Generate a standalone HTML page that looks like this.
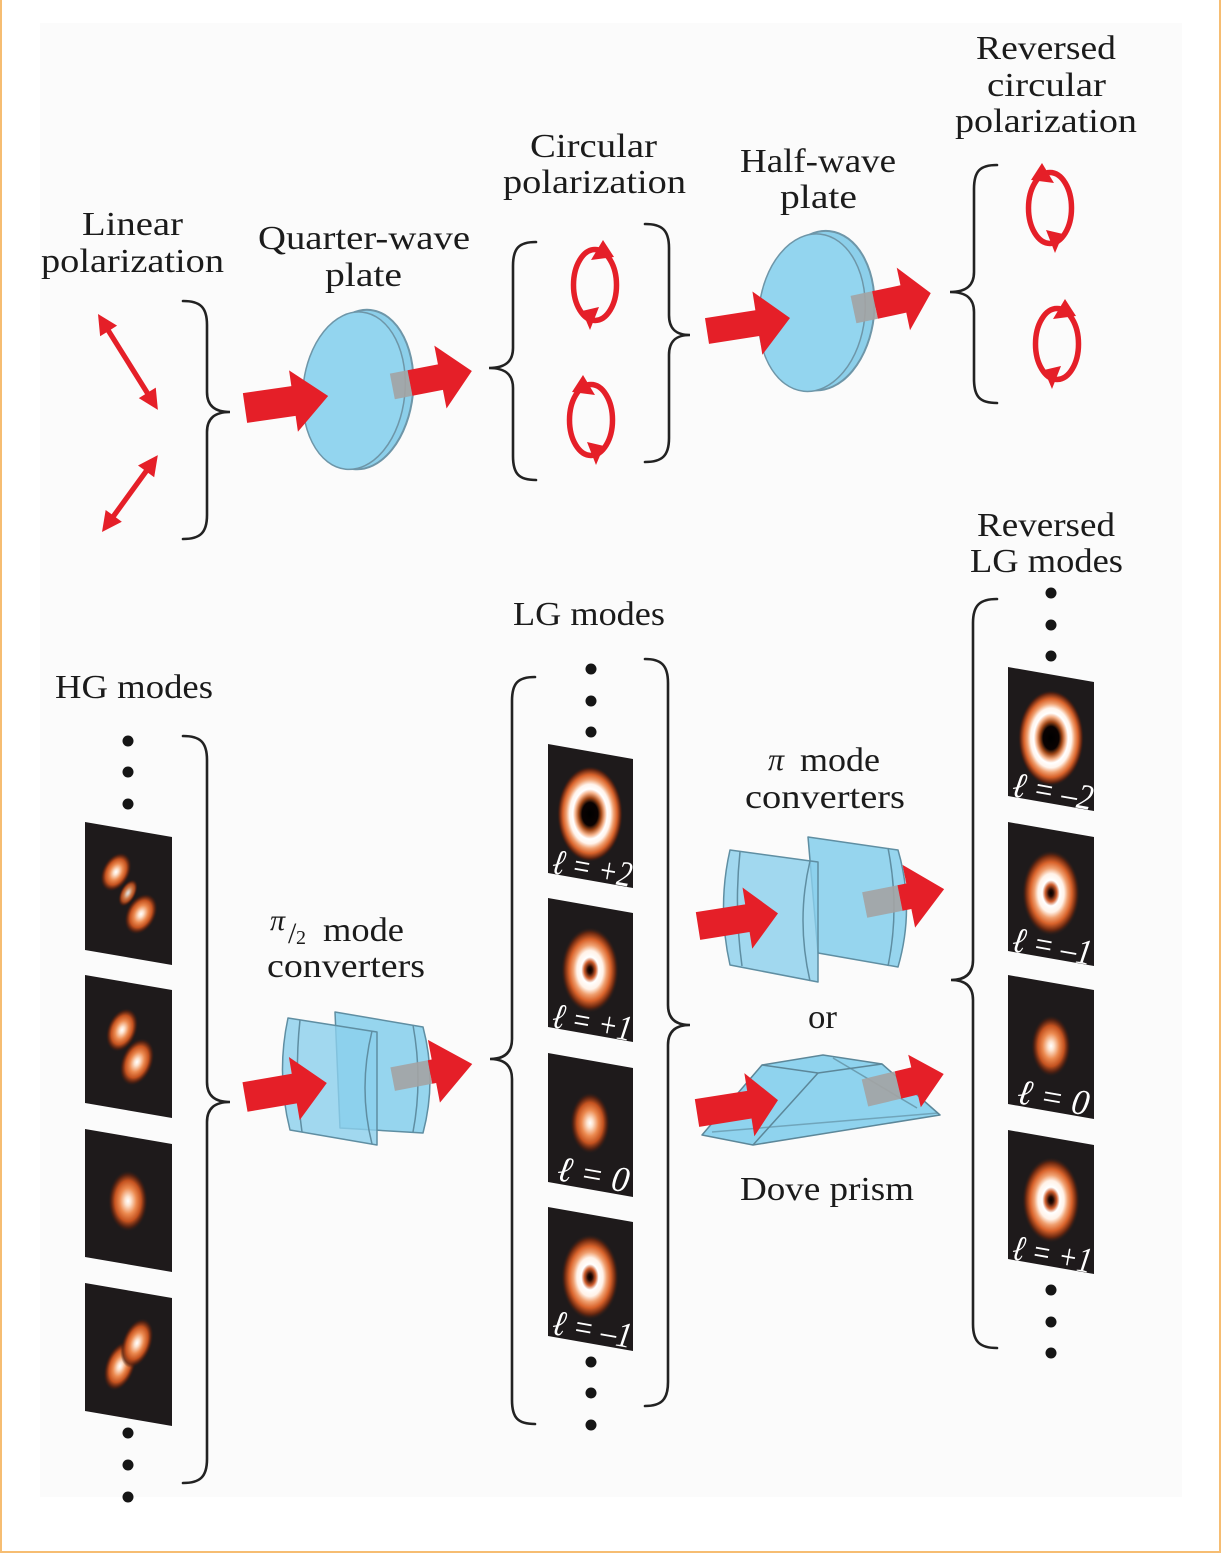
<!DOCTYPE html>
<html><head><meta charset="utf-8"><style>
html,body{margin:0;padding:0;background:#fff;}
svg{display:block;}
text{font-family:"Liberation Serif",serif;fill:#1b1b1b;}
.t{font-size:34px;}
.lab{font-size:36px;font-style:italic;fill:#fff;}
</style></head><body>
<svg width="1221" height="1553" viewBox="0 0 1221 1553" xmlns="http://www.w3.org/2000/svg">
<defs>
<radialGradient id="g0">
<stop offset="0" stop-color="#ffffff"/><stop offset="0.15" stop-color="#fde3cf"/><stop offset="0.42" stop-color="#ec8a50"/><stop offset="0.66" stop-color="#c4521f"/><stop offset="0.85" stop-color="#5a2210" stop-opacity="0.8"/><stop offset="1" stop-color="#1e1a1b" stop-opacity="0"/>
</radialGradient>
<radialGradient id="g1">
<stop offset="0" stop-color="#000000"/><stop offset="0.08" stop-color="#2a0c04"/><stop offset="0.2" stop-color="#d06030"/><stop offset="0.3" stop-color="#ffffff"/><stop offset="0.45" stop-color="#fff2e8"/><stop offset="0.58" stop-color="#f0a070"/><stop offset="0.72" stop-color="#d8622a"/><stop offset="0.87" stop-color="#6a2810"/><stop offset="1" stop-color="#1e1a1b" stop-opacity="0"/>
</radialGradient>
<radialGradient id="g2">
<stop offset="0" stop-color="#000000"/><stop offset="0.24" stop-color="#0a0302"/><stop offset="0.34" stop-color="#a04818"/><stop offset="0.44" stop-color="#f4b088"/><stop offset="0.52" stop-color="#ffffff"/><stop offset="0.62" stop-color="#fff4ec"/><stop offset="0.72" stop-color="#f0a070"/><stop offset="0.82" stop-color="#d8622a"/><stop offset="0.93" stop-color="#5a2210"/><stop offset="1" stop-color="#1e1a1b" stop-opacity="0"/>
</radialGradient>
<g id="cw">
<ellipse cx="0" cy="0" rx="21.5" ry="35.5" fill="none" stroke="#e51f28" stroke-width="5.5"/>
<polygon points="8,-45 19,-28 -4,-25" fill="#e51f28"/>
<polygon points="-13,26 4,22 -5,45" fill="#e51f28"/>
</g>
</defs>

<!-- background panel and border -->
<rect x="0" y="0" width="1221" height="1553" fill="#ffffff"/>
<rect x="40" y="23" width="1142" height="1474" fill="#fbfbfb"/>
<rect x="0" y="0" width="2" height="1553" fill="#f6bd72"/>
<rect x="1219" y="0" width="2" height="1553" fill="#f6bd72"/>
<rect x="0" y="1551" width="1221" height="2" fill="#f6bd72"/>

<!-- ===== TOP TEXT ===== -->
<text class="t" x="82" y="235" textLength="101" lengthAdjust="spacingAndGlyphs">Linear</text>
<text class="t" x="41" y="272" textLength="183" lengthAdjust="spacingAndGlyphs">polarization</text>
<text class="t" x="258" y="249" textLength="212" lengthAdjust="spacingAndGlyphs">Quarter-wave</text>
<text class="t" x="325" y="286" textLength="77" lengthAdjust="spacingAndGlyphs">plate</text>
<text class="t" x="530" y="157" textLength="127" lengthAdjust="spacingAndGlyphs">Circular</text>
<text class="t" x="503" y="193" textLength="183" lengthAdjust="spacingAndGlyphs">polarization</text>
<text class="t" x="740" y="172" textLength="156" lengthAdjust="spacingAndGlyphs">Half-wave</text>
<text class="t" x="780" y="208" textLength="77" lengthAdjust="spacingAndGlyphs">plate</text>
<text class="t" x="976" y="59" textLength="140" lengthAdjust="spacingAndGlyphs">Reversed</text>
<text class="t" x="987" y="96" textLength="119" lengthAdjust="spacingAndGlyphs">circular</text>
<text class="t" x="955" y="132" textLength="182" lengthAdjust="spacingAndGlyphs">polarization</text>

<!-- ===== BRACES ===== -->
<g fill="none" stroke="#222" stroke-width="2.6" stroke-linecap="round">
<path d="M183,301 C200,301 207,307 207,325 L207,392 C207,405 214,412 230,412 C214,412 207,419 207,432 L207,515 C207,533 200,539 183,539"/>
<path d="M536,242 C519,242 513,248 513,266 L513,348 C513,361 506,368 489,368 C506,368 513,375 513,388 L513,456 C513,474 519,480 536,480"/>
<path d="M645,224 C662,224 669,230 669,248 L669,315 C669,328 675,335 690,335 C675,335 669,342 669,355 L669,438 C669,456 662,462 645,462"/>
<path d="M997,165 C980,165 974,171 974,189 L974,272 C974,285 967,292 950,292 C967,292 974,299 974,312 L974,379 C974,397 980,403 997,403"/>
<path d="M183,736 C200,736 207,742 207,760 L207,1082 C207,1095 214,1102 230,1102 C214,1102 207,1109 207,1122 L207,1459 C207,1477 200,1483 183,1483"/>
<path d="M535,677 C518,677 512,683 512,701 L512,1039 C512,1052 505,1059 490,1059 C505,1059 512,1066 512,1079 L512,1400 C512,1418 518,1424 535,1424"/>
<path d="M645,659 C661,659 668,665 668,683 L668,1005 C668,1018 675,1025 690,1025 C675,1025 668,1032 668,1045 L668,1382 C668,1400 661,1406 645,1406"/>
<path d="M997,599 C980,599 973,605 973,623 L973,960 C973,973 966,980 951,980 C966,980 973,987 973,1000 L973,1324 C973,1342 980,1348 997,1348"/>
</g>

<!-- linear polarization arrows -->
<polygon transform="translate(98,314) rotate(58)" points="0,0 20,-10 20,-2.6 93,-2.6 93,-10 113,0 93,10 93,2.6 20,2.6 20,10" fill="#e51f28"/>
<polygon transform="translate(102,532) rotate(-54)" points="0,0 20,-10 20,-2.6 75,-2.6 75,-10 95,0 75,10 75,2.6 20,2.6 20,10" fill="#e51f28"/>

<!-- circular polarization -->
<use href="#cw" transform="translate(595,285)"/>
<use href="#cw" transform="translate(591,420) scale(-1,1)"/>
<use href="#cw" transform="translate(1050,208) scale(-1,1)"/>
<use href="#cw" transform="translate(1057,344)"/>

<!-- QWP -->
<g transform="rotate(6 357 390)">
<ellipse cx="362" cy="389" rx="51" ry="80" fill="#8ccfea" stroke="#6e96a8" stroke-width="2"/>
<ellipse cx="354" cy="391" rx="51" ry="79" fill="#93d5ef" stroke="#6e96a8" stroke-width="1.5"/>
</g>
<!-- HWP -->
<g transform="rotate(6 815 312)">
<ellipse cx="821" cy="310" rx="53" ry="80" fill="#8ccfea" stroke="#6e96a8" stroke-width="2"/>
<ellipse cx="812" cy="313" rx="53" ry="79" fill="#93d5ef" stroke="#6e96a8" stroke-width="1.5"/>
</g>

<!-- top arrows -->
<polygon transform="translate(245,408) rotate(-8.2)" points="0,-15 49,-15 49,-31 84,0 49,31 49,15 0,15" fill="#e51f28"/>
<g transform="translate(410,383) rotate(-11)"><rect x="-18" y="-13" width="18" height="26" fill="#a3a3a3" opacity="0.9"/><polygon points="0,-13 31,-13 31,-32 63,0 31,32 31,13 0,13" fill="#e51f28"/></g>
<polygon transform="translate(707,331) rotate(-8.9)" points="0,-13 51,-13 51,-32 84,0 51,32 51,13 0,13" fill="#e51f28"/>
<g transform="translate(875,305) rotate(-12)"><rect x="-22" y="-14" width="22" height="28" fill="#a3a3a3" opacity="0.9"/><polygon points="0,-14 29,-14 29,-32 57,0 29,32 29,14 0,14" fill="#e51f28"/></g>

<!-- ===== BOTTOM TEXT ===== -->
<text class="t" x="55" y="698" textLength="158" lengthAdjust="spacingAndGlyphs">HG modes</text>
<text class="t" x="513" y="625" textLength="152" lengthAdjust="spacingAndGlyphs">LG modes</text>
<text class="t" x="977" y="536" textLength="138" lengthAdjust="spacingAndGlyphs">Reversed</text>
<text class="t" x="970" y="572" textLength="153" lengthAdjust="spacingAndGlyphs">LG modes</text>
<text x="270" y="930" font-size="30" font-style="italic">π</text>
<text x="288" y="943" font-size="30">/</text>
<text x="296" y="944" font-size="20">2</text>
<text class="t" x="323" y="941" textLength="81" lengthAdjust="spacingAndGlyphs">mode</text>
<text class="t" x="267" y="977" textLength="158" lengthAdjust="spacingAndGlyphs">converters</text>
<text x="768" y="770" font-size="32" font-style="italic">π</text>
<text class="t" x="800" y="771" textLength="80" lengthAdjust="spacingAndGlyphs">mode</text>
<text class="t" x="745" y="808" textLength="160" lengthAdjust="spacingAndGlyphs">converters</text>
<text class="t" x="808" y="1028" textLength="29" lengthAdjust="spacingAndGlyphs">or</text>
<text class="t" x="740" y="1200" textLength="174" lengthAdjust="spacingAndGlyphs">Dove prism</text>

<!-- dots -->
<g fill="#151515">
<circle cx="128" cy="741" r="5.5"/><circle cx="128" cy="772" r="5.5"/><circle cx="128" cy="804" r="5.5"/>
<circle cx="128" cy="1433" r="5.5"/><circle cx="128" cy="1465" r="5.5"/><circle cx="128" cy="1497" r="5.5"/>
<circle cx="591" cy="669" r="5.5"/><circle cx="591" cy="701" r="5.5"/><circle cx="591" cy="732" r="5.5"/>
<circle cx="591" cy="1362" r="5.5"/><circle cx="591" cy="1393" r="5.5"/><circle cx="591" cy="1425" r="5.5"/>
<circle cx="1051" cy="593" r="5.5"/><circle cx="1051" cy="625" r="5.5"/><circle cx="1051" cy="656" r="5.5"/>
<circle cx="1051" cy="1290" r="5.5"/><circle cx="1051" cy="1322" r="5.5"/><circle cx="1051" cy="1353" r="5.5"/>
</g>

<!-- HG images -->
<g fill="#1e1a1b">
<polygon points="85,822 172,837 172,965 85,950"/>
<polygon points="85,975 172,990 172,1118 85,1103"/>
<polygon points="85,1129 172,1144 172,1272 85,1257"/>
<polygon points="85,1283 172,1298 172,1426 85,1411"/>
</g>
<ellipse cx="116" cy="872" rx="14" ry="21" fill="url(#g0)" transform="rotate(28 116 872)"/>
<ellipse cx="128" cy="893" rx="8" ry="15" fill="url(#g0)" opacity="0.85" transform="rotate(28 128 893)"/>
<ellipse cx="141" cy="914" rx="15" ry="22" fill="url(#g0)" transform="rotate(28 141 914)"/>
<ellipse cx="122" cy="1030" rx="15" ry="23" fill="url(#g0)" transform="rotate(22 122 1030)"/>
<ellipse cx="137" cy="1062" rx="16" ry="25" fill="url(#g0)" transform="rotate(22 137 1062)"/>
<ellipse cx="128" cy="1201" rx="20" ry="31" fill="url(#g0)"/>
<ellipse cx="120" cy="1366" rx="15" ry="26" fill="url(#g0)" transform="rotate(20 120 1366)"/>
<ellipse cx="137" cy="1343" rx="15" ry="26" fill="url(#g0)" transform="rotate(20 137 1343)"/>

<!-- LG images -->
<g fill="#1e1a1b">
<polygon points="548,744 633,759 633,888 548,873"/>
<polygon points="548,898 633,913 633,1042 548,1027"/>
<polygon points="548,1053 633,1068 633,1197 548,1182"/>
<polygon points="548,1207 633,1222 633,1351 548,1336"/>
<polygon points="1008,667 1094,682 1094,811 1008,796"/>
<polygon points="1008,822 1094,837 1094,966 1008,951"/>
<polygon points="1008,975 1094,990 1094,1119 1008,1104"/>
<polygon points="1008,1130 1094,1145 1094,1274 1008,1259"/>
</g>
<ellipse cx="590" cy="814" rx="33" ry="48" fill="url(#g2)"/>
<ellipse cx="590" cy="970" rx="29" ry="43" fill="url(#g1)"/>
<ellipse cx="590" cy="1123" rx="20" ry="31" fill="url(#g0)"/>
<ellipse cx="590" cy="1277" rx="29" ry="43" fill="url(#g1)"/>
<ellipse cx="1051" cy="738" rx="33" ry="48" fill="url(#g2)"/>
<ellipse cx="1051" cy="893" rx="29" ry="43" fill="url(#g1)"/>
<ellipse cx="1051" cy="1046" rx="20" ry="31" fill="url(#g0)"/>
<ellipse cx="1051" cy="1200" rx="29" ry="43" fill="url(#g1)"/>

<!-- LG labels -->
<text class="lab" transform="translate(551,873) rotate(10)" textLength="80" lengthAdjust="spacingAndGlyphs">ℓ = +2</text>
<text class="lab" transform="translate(551,1027) rotate(10)" textLength="80" lengthAdjust="spacingAndGlyphs">ℓ = +1</text>
<text class="lab" transform="translate(556,1180) rotate(10)" textLength="72" lengthAdjust="spacingAndGlyphs">ℓ = 0</text>
<text class="lab" transform="translate(551,1334) rotate(10)" textLength="80" lengthAdjust="spacingAndGlyphs">ℓ = –1</text>
<text class="lab" transform="translate(1011,796) rotate(10)" textLength="81" lengthAdjust="spacingAndGlyphs">ℓ = –2</text>
<text class="lab" transform="translate(1011,951) rotate(10)" textLength="80" lengthAdjust="spacingAndGlyphs">ℓ = –1</text>
<text class="lab" transform="translate(1016,1103) rotate(10)" textLength="72" lengthAdjust="spacingAndGlyphs">ℓ = 0</text>
<text class="lab" transform="translate(1011,1259) rotate(10)" textLength="80" lengthAdjust="spacingAndGlyphs">ℓ = +1</text>

<!-- pi/2 mode converter -->
<g stroke="#5f8ea2" stroke-width="1.5" stroke-linejoin="round">
<path d="M335,1012 L423,1027 Q437,1080 423,1133 L340,1128 L335,1012 Z" fill="#8bd0ec" fill-opacity="0.9"/>
<path d="M413,1025 Q423,1080 413,1132" fill="none"/>
<path d="M288,1018 L377,1032 L377,1145 L290,1130 Q276,1074 288,1018 Z" fill="#8bd0ec" fill-opacity="0.8"/>
<path d="M300,1020 Q294,1075 302,1132" fill="none"/>
<path d="M372,1031 Q358,1088 372,1144" fill="none"/>
</g>
<!-- pi mode converter -->
<g stroke="#5f8ea2" stroke-width="1.5" stroke-linejoin="round">
<path d="M808,837 L898,850 Q915,908 898,967 L818,953 L808,837 Z" fill="#8bd0ec" fill-opacity="0.9"/>
<path d="M888,848 Q900,908 888,966" fill="none"/>
<path d="M730,850 L818,862 L818,982 L730,965 Q717,907 730,850 Z" fill="#8bd0ec" fill-opacity="0.8"/>
<path d="M740,852 Q734,908 742,966" fill="none"/>
<path d="M810,861 Q796,920 810,981" fill="none"/>
</g>
<!-- Dove prism -->
<g stroke="#5c8799" stroke-width="1.5" stroke-linejoin="round" fill="none">
<path d="M702,1135 L762,1065 L823,1055 L882,1064 L940,1115 L753,1145 Z" fill="#8fd3ee"/>
<path d="M762,1065 L818,1073 L882,1064"/>
<path d="M818,1073 L753,1145"/>
<path d="M833,1058 L917,1108" stroke-opacity="0.7"/>
<path d="M712,1132 L938,1113" stroke-opacity="0.6"/>
</g>

<!-- bottom arrows -->
<polygon transform="translate(245,1097) rotate(-9.7)" points="0,-15 50,-15 50,-32 83,0 50,32 50,15 0,15" fill="#e51f28"/>
<g transform="translate(430,1072) rotate(-10.8)"><rect x="-38" y="-12" width="38" height="24" fill="#a3a3a3" opacity="0.9"/><polygon points="0,-12 4,-12 4,-32 43,0 4,32 4,12 0,12" fill="#e51f28"/></g>
<polygon transform="translate(698,926) rotate(-9)" points="0,-14 50,-14 50,-31 81,0 50,31 50,14 0,14" fill="#e51f28"/>
<g transform="translate(900,898) rotate(-11.3)"><rect x="-36" y="-13" width="36" height="26" fill="#a3a3a3" opacity="0.9"/><polygon points="0,-13 9,-13 9,-32 45,0 9,32 9,13 0,13" fill="#e51f28"/></g>
<polygon transform="translate(697,1113) rotate(-9)" points="0,-14 53,-14 53,-32 82,0 53,32 53,14 0,14" fill="#e51f28"/>
<g transform="translate(898,1085) rotate(-13.5)"><rect x="-34" y="-14" width="34" height="28" fill="#a3a3a3" opacity="0.9"/><polygon points="0,-14 17,-14 17,-27 47,0 17,27 17,14 0,14" fill="#e51f28"/></g>

</svg>
</body></html>
